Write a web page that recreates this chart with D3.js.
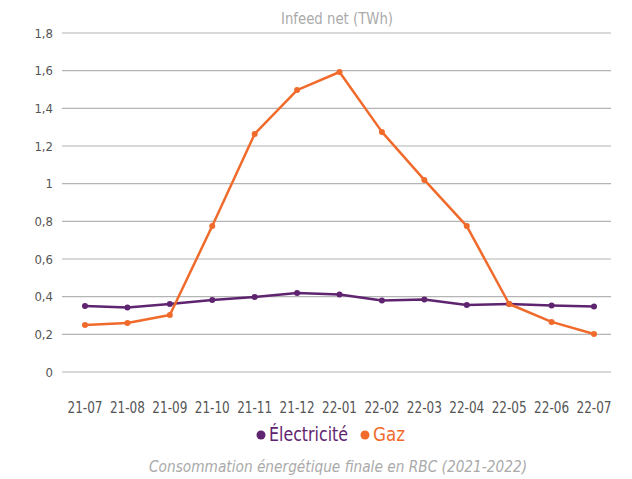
<!DOCTYPE html>
<html>
<head>
<meta charset="utf-8">
<script src="https://cdn.jsdelivr.net/npm/d3@7"></script>
<style>
  body { margin: 0; background: #fff; }
  svg text { font-family: "Liberation Sans Narrow", "DejaVu Sans Condensed", "Open Sans", sans-serif; }
</style>
</head>
<body>
<div id="chart"></div>
<script>
var months = ["21-07", "21-08", "21-09", "21-10", "21-11", "21-12", "22-01",
              "22-02", "22-03", "22-04", "22-05", "22-06", "22-07"];
var electricite = [0.35, 0.343, 0.361, 0.382, 0.398, 0.42, 0.412, 0.38, 0.385, 0.356, 0.361, 0.353, 0.348];
var gaz = [0.25, 0.26, 0.303, 0.775, 1.264, 1.497, 1.593, 1.275, 1.02, 0.775, 0.361, 0.266, 0.202];
var yTicks = [0, 0.2, 0.4, 0.6, 0.8, 1, 1.2, 1.4, 1.6, 1.8];

var width = 632, height = 479;
var colors = { elec: "#5f2470", gaz: "#f06b2b" };

var svg = d3.select("#chart")
  .append("svg")
    .attr("width", width)
    .attr("height", height);

var x = d3.scalePoint()
    .domain(months)
    .range([85, 594]);

var y = d3.scaleLinear()
    .domain([0, 1.8])
    .range([372, 33]);

// grid lines
svg.append("g")
  .selectAll("line")
  .data(yTicks)
  .enter().append("line")
    .attr("x1", 62)
    .attr("x2", 611)
    .attr("y1", function(d) { return y(d); })
    .attr("y2", function(d) { return y(d); })
    .attr("stroke", "#b4b4b4")
    .attr("stroke-width", 1.2);

// y labels
svg.append("g")
  .selectAll("text")
  .data(yTicks)
  .enter().append("text")
    .attr("x", 53)
    .attr("y", function(d) { return y(d) + 4.5; })
    .attr("text-anchor", "end")
    .attr("fill", "#555")
    .style("font-size", "13px")
    .text(function(d) { return String(d).replace(".", ","); });

// x labels
svg.append("g")
  .selectAll("text")
  .data(months)
  .enter().append("text")
    .attr("x", function(d) { return x(d); })
    .attr("y", 413)
    .attr("text-anchor", "middle")
    .attr("fill", "#555")
    .style("font-size", "15px")
    .attr("textLength", 35)
    .attr("lengthAdjust", "spacingAndGlyphs")
    .text(function(d) { return d; });

var line = d3.line()
    .x(function(d, i) { return x(months[i]); })
    .y(function(d) { return y(d); });

function drawSeries(values, color) {
	svg.append("path")
	    .datum(values)
	    .attr("d", line)
	    .attr("fill", "none")
	    .attr("stroke", color)
	    .attr("stroke-width", 2.5)
	    .attr("stroke-linejoin", "round");

	svg.append("g")
	  .selectAll("circle")
	  .data(values)
	  .enter().append("circle")
	    .attr("cx", function(d, i) { return x(months[i]); })
	    .attr("cy", function(d) { return y(d); })
	    .attr("r", 3)
	    .attr("fill", color);
};

drawSeries(electricite, colors.elec);
drawSeries(gaz, colors.gaz);

// title
svg.append("text")
    .attr("x", 337)
    .attr("y", 24)
    .attr("text-anchor", "middle")
    .attr("fill", "#aaa")
    .style("font-size", "16px")
    .attr("textLength", 112)
    .attr("lengthAdjust", "spacingAndGlyphs")
    .text("Infeed net (TWh)");

// legend
var legend = [
	{ name: "Électricité", color: colors.elec, cx: 261, tx: 269, len: 79 },
	{ name: "Gaz", color: colors.gaz, cx: 365, tx: 373, len: 32 }
];
legend.forEach(function(l) {
	svg.append("circle")
	    .attr("cx", l.cx)
	    .attr("cy", 435)
	    .attr("r", 4.5)
	    .attr("fill", l.color);
	svg.append("text")
	    .attr("x", l.tx)
	    .attr("y", 441)
	    .attr("fill", l.color)
	    .style("font-size", "19px")
	    .attr("textLength", l.len)
	    .attr("lengthAdjust", "spacingAndGlyphs")
	    .text(l.name);
});

// caption
svg.append("text")
    .attr("x", 338)
    .attr("y", 472)
    .attr("text-anchor", "middle")
    .attr("fill", "#aaa")
    .style("font-size", "16px")
    .style("font-style", "italic")
    .attr("textLength", 378)
    .attr("lengthAdjust", "spacingAndGlyphs")
    .text("Consommation énergétique finale en RBC (2021-2022)");
</script>
</body>
</html>
